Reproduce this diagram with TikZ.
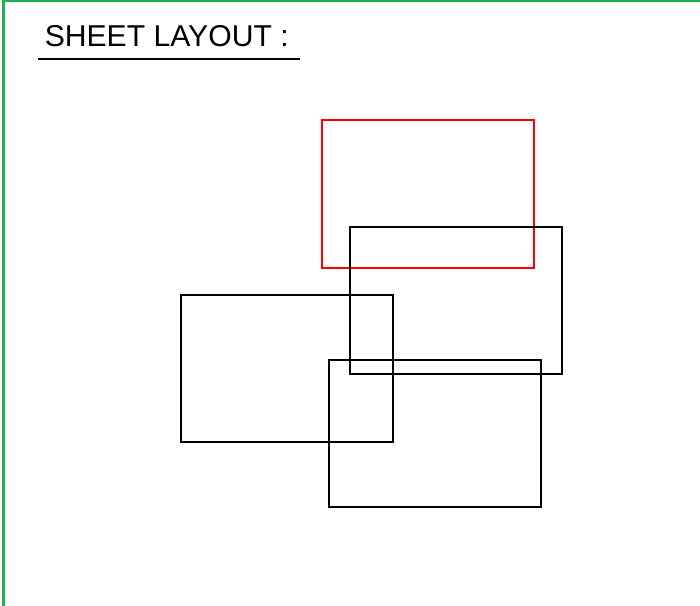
\documentclass[tikz,border=0pt]{standalone}
\usepackage{fontspec}
\setmainfont{Liberation Sans}
\definecolor{framegreen}{RGB}{34,177,76}
\begin{document}
\begin{tikzpicture}[x=0.75pt,y=-0.75pt,
  sheet/.style={draw=black,line width=1.5pt,minimum width=212*0.75pt,minimum height=147*0.75pt,inner sep=0pt,anchor=north west},
  redsheet/.style={sheet,draw=red}]
\useasboundingbox (0,0) rectangle (700,606);
\fill[white] (0,0) rectangle (700,606);
\draw[framegreen,line width=1.6pt] (3.5,606) -- (3.5,1) -- (700,1);
\node[inner sep=0pt,anchor=base west,font=\fontsize{22.6pt}{25pt}\selectfont] (title) at (44.5,47) {SHEET LAYOUT :};
\coordinate (ul1) at (38,59.5);
\coordinate (ul2) at (300,59.5);
\draw[line width=1.5pt] (ul1) -- (ul2);
\node[redsheet] (r1) at (320.5,119.5) {};
\node[sheet] (r2) at (348.5,226) {};
\node[sheet] (r3) at (179.5,293.5) {};
\node[sheet] (r4) at (327.5,358.5) {};
\end{tikzpicture}
\end{document}
